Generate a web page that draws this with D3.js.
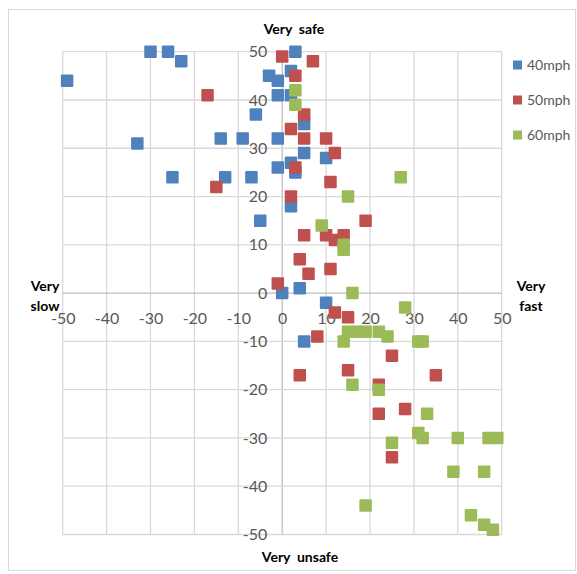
<!DOCTYPE html>
<html><head><meta charset="utf-8">
<script src="https://cdn.jsdelivr.net/npm/d3@7"></script>
<style>body{margin:0;background:#fff;} text{font-family:Lato,"Open Sans",sans-serif;}</style>
</head><body>
<svg id="c" width="577" height="574"></svg>
<script>
const seriesNames = ["40mph","50mph","60mph"];
const seriesColors = ["#4f81bd","#c0504d","#9bbb59"];
const xTicks = [-50,-40,-30,-20,-10,0,10,20,30,40,50];
const yTicks = [-50,-40,-30,-20,-10,0,10,20,30,40,50];
const mph40 = [[-49,44],[-30,50],[-26,50],[-23,48],[-33,31],[-14,32],[-9,32],[-6,37],[-3,45],[-1,44],[-1,41],[2,41],[3,50],[2,46],[-1,32],[5,35],[5,29],[10,28],[2,27],[-1,26],[3,25],[-25,24],[-13,24],[-7,24],[-5,15],[2,18],[0,0],[4,1],[10,-2],[5,-10]];
const mph50 = [[0,49],[7,48],[3,45],[-17,41],[5,37],[2,34],[5,32],[10,32],[12,29],[3,26],[-15,22],[11,23],[2,20],[19,15],[5,12],[10,12],[12,11],[14,12],[4,7],[11,5],[6,4],[-1,2],[12,-4],[15,-5],[8,-9],[25,-13],[4,-17],[15,-16],[35,-17],[22,-19],[22,-25],[28,-24],[25,-34]];
const mph60 = [[3,42],[3,39],[27,24],[15,20],[9,14],[14,10],[14,9],[16,0],[28,-3],[15,-8],[17,-8],[19,-8],[22,-8],[24,-9],[14,-10],[31,-10],[32,-10],[16,-19],[22,-20],[33,-25],[31,-29],[32,-30],[40,-30],[47,-30],[49,-30],[25,-31],[39,-37],[46,-37],[19,-44],[43,-46],[46,-48],[48,-49]];
const allSeries = [mph40, mph50, mph60];

const svg = d3.select("#c");
svg.append("rect").attr("x",8.5).attr("y",9.5).attr("width",567).attr("height",561)
  .attr("fill","#fff").attr("stroke","#d9d9d9");

const x = d3.scaleLinear().domain([-50,50]).range([62.7,501.7]);
const y = d3.scaleLinear().domain([-50,50]).range([534.5,51.7]);

// gridlines
const grid = svg.append("g");
grid.selectAll(".vx").data(xTicks).join("line")
  .attr("x1",d=>x(d)).attr("x2",d=>x(d)).attr("y1",y(50)).attr("y2",y(-50))
  .attr("stroke",d=>d===0?"#bfbfbf":"#d9d9d9").attr("stroke-width",1.3);
grid.selectAll(".hy").data(yTicks).join("line")
  .attr("y1",d=>y(d)).attr("y2",d=>y(d)).attr("x1",x(-50)).attr("x2",x(50))
  .attr("stroke",d=>d===0?"#bfbfbf":"#d9d9d9").attr("stroke-width",1.3);

// axes via d3 axis, styled
const xAxis = d3.axisBottom(x).tickValues(xTicks).tickSize(0).tickPadding(20).tickFormat(d=>String(d));
const gx = svg.append("g").attr("transform",`translate(0,${y(0)})`).call(xAxis);
gx.select(".domain").remove();
gx.selectAll("text").attr("fill","#595959").attr("font-size",16).style("font-family","Lato");

const yAxis = d3.axisLeft(y).tickValues(yTicks).tickSize(0).tickPadding(15).tickFormat(d=>String(d));
const gy = svg.append("g").attr("transform",`translate(${x(0)},0)`).call(yAxis);
gy.select(".domain").remove();
gy.selectAll("text").attr("fill","#595959").attr("font-size",16).style("font-family","Lato");

// points
const ms = 12.5;
allSeries.forEach((s,i)=>{
  svg.append("g").selectAll("rect").data(s).join("rect")
    .attr("x",d=>x(d[0])-ms/2).attr("y",d=>y(d[1])-ms/2)
    .attr("width",ms).attr("height",ms).attr("rx",1)
    .attr("fill",seriesColors[i]);
});

// labels
const lab = (t,xx,yy,anchor)=>svg.append("text").attr("x",xx).attr("y",yy)
  .attr("text-anchor",anchor||"middle").attr("font-weight","bold").attr("font-size",14)
  .attr("fill","#000").style("white-space","pre").text(t);
lab("Very  safe",294,34);
lab("Very  unsafe",300,562);
lab("Very",45,291);
lab("slow",45,311);
lab("Very",531,291);
lab("fast",531,311);

// legend
const lg = svg.append("g");
seriesNames.forEach((n,i)=>{
  const yy = [65,100,135][i];
  lg.append("rect").attr("x",513).attr("y",yy-4.5).attr("width",9).attr("height",9).attr("fill",seriesColors[i]);
  lg.append("text").attr("x",527).attr("y",yy+5).attr("font-size",14).attr("fill","#595959").text(n);
});
</script>
</body></html>
